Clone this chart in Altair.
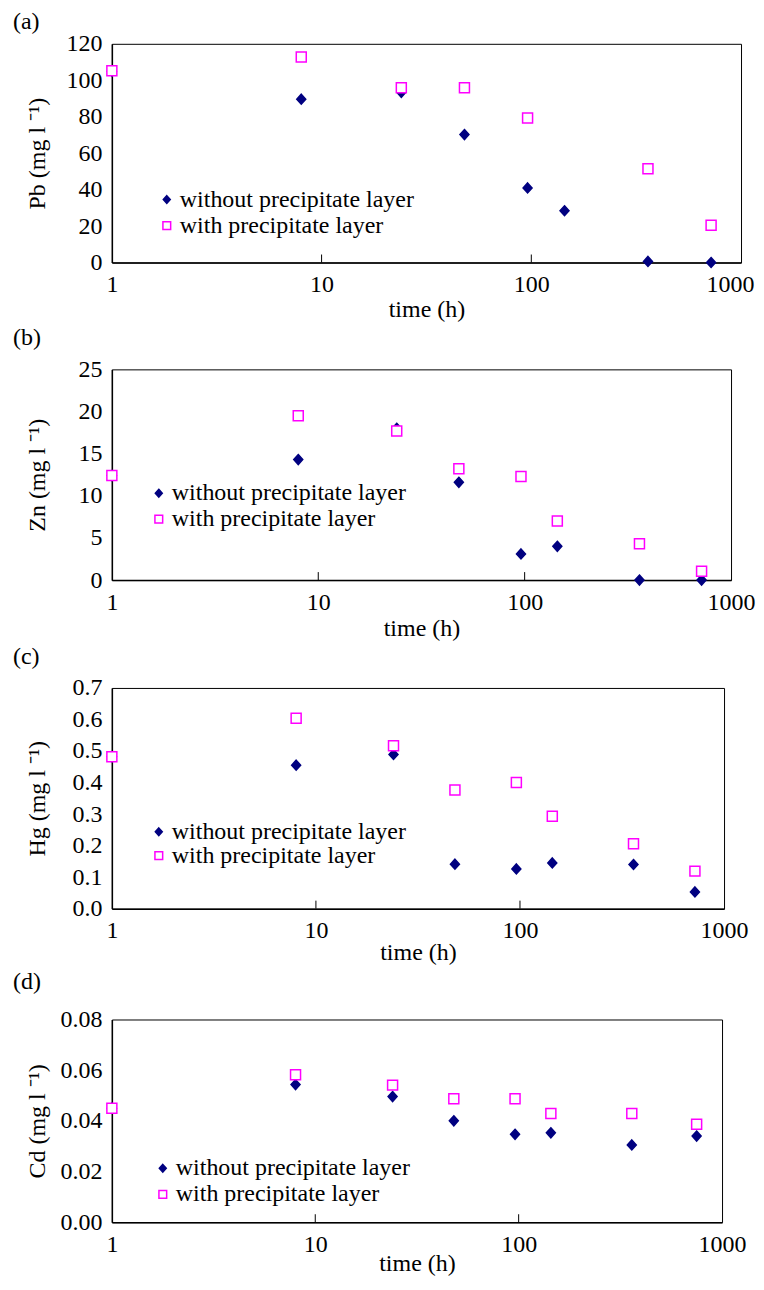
import altair as alt
import pandas as pd

# ---------------- data ----------------
times = [1, 8, 24, 48, 96, 144, 360, 720]
times_cd = [1, 8, 24, 48, 96, 144, 360, 750]

pb_without = [105, 89.6, 93.4, 70.2, 40.9, 28.4, 0.6, 0]
pb_with = [105.2, 112.8, 95.9, 95.9, 79.3, None, 51.4, 20.5]

zn_without = [12.4, 14.3, 18.0, 11.6, 3.1, 4.0, 0, 0]
zn_with = [12.4, 19.5, 17.7, 13.2, 12.3, 7.0, 4.3, 1.05]

hg_without = [0.482, 0.455, 0.489, 0.141, 0.126, 0.145, 0.140, 0.053]
hg_with = [0.482, 0.604, 0.517, 0.376, 0.400, 0.293, 0.206, 0.119]

cd_without = [0.0450, 0.0543, 0.0496, 0.0400, 0.0347, 0.0353, 0.0305, 0.0340]
cd_with = [0.0450, 0.0582, 0.0541, 0.0487, 0.0487, 0.0429, 0.0429, 0.0387]

series_names = ["without precipitate layer", "with precipitate layer"]
x_tick_values = [1, 10, 100, 1000]
x_inner_ticks = [10, 100]

pb_ticks = [0, 20, 40, 60, 80, 100, 120]
zn_ticks = [0, 5, 10, 15, 20, 25]
hg_ticks = [0.0, 0.1, 0.2, 0.3, 0.4, 0.5, 0.6, 0.7]
cd_ticks = [0.00, 0.02, 0.04, 0.06, 0.08]

FONT = "Liberation Serif"
FS = 24
NAVY = "#000080"
MAGENTA = "#FF00FF"
DIAMOND = "M0,-1L0.9,0L0,1L-0.9,0Z"


def panel(label, ylabel, tvals, without, with_, yticks, fmt, W, H,
          title_offset, tpad, xtpad, legx, legy, rowpad, last_shift=0):
    rows = []
    for t, v in zip(tvals, without):
        if v is not None:
            rows.append({"time": t, "value": v, "series": series_names[0], "k": 0})
    for t, v in zip(tvals, with_):
        if v is not None:
            rows.append({"time": t, "value": v, "series": series_names[1], "k": 1})
    df = pd.DataFrame(rows)

    xscale = alt.Scale(type="log", domain=[1, 1000], nice=False)
    legend = alt.Legend(
        orient="none", legendX=legx, legendY=legy, title=None,
        labelFont=FONT, labelFontSize=FS, labelColor="black",
        labelOffset=1, symbolSize=60, symbolStrokeWidth=1.5,
        rowPadding=rowpad, padding=0, labelLimit=400,
    )

    points = alt.Chart(df).mark_point(size=100, strokeWidth=1.5, opacity=1,
                                      fillOpacity=1).encode(
        x=alt.X("time:Q", scale=xscale,
                axis=alt.Axis(values=x_tick_values, format="d", title="time (h)",
                              tickSize=0, labelPadding=10, titlePadding=xtpad,
                              labelFlush=False, domainWidth=1.5,
                              labelOffset={"condition": {"test": "datum.value >= 1000",
                                                         "value": last_shift},
                                           "value": 0})),
        y=alt.Y("value:Q",
                scale=alt.Scale(domain=[yticks[0], yticks[-1]], nice=False, zero=True),
                axis=alt.Axis(values=yticks, format=fmt, title=ylabel,
                              tickSize=0, labelPadding=10, titlePadding=tpad,
                              labelFlush=False, domainWidth=1.5)),
        color=alt.Color("series:N",
                        scale=alt.Scale(domain=series_names, range=[NAVY, MAGENTA]),
                        legend=legend),
        fill=alt.Fill("series:N",
                      scale=alt.Scale(domain=series_names, range=[NAVY, "white"]),
                      legend=legend),
        shape=alt.Shape("series:N",
                        scale=alt.Scale(domain=series_names, range=[DIAMOND, "square"]),
                        legend=legend),
        order=alt.Order("k:Q"),
    )

    ticks = alt.Chart(pd.DataFrame({"time": x_inner_ticks})).mark_rule(
        color="black", strokeWidth=1).encode(
        x=alt.X("time:Q", scale=xscale),
        y=alt.value(H),
        y2=alt.value(H - 8),
    )

    return alt.layer(ticks, points).properties(
        width=W, height=H,
        title=alt.TitleParams(label, anchor="start", frame="group", dx=-99,
                              offset=title_offset, fontSize=FS, font=FONT,
                              fontWeight="normal", color="black"),
    )


pa = panel("(a)", "Pb (mg l ⁻¹)", times, pb_without, pb_with, pb_ticks, "d",
           630, 219, -2, 16, 1, 43, 144, 2, last_shift=-11)
pb = panel("(b)", "Zn (mg l ⁻¹)", times, zn_without, zn_with, zn_ticks, "d",
           620, 211, 7, 28, 2, 35, 112, 2)
pc = panel("(c)", "Hg (mg l ⁻¹)", times, hg_without, hg_with, hg_ticks, ".1f",
           613, 221, 7, 22, -2, 35, 132, 0)
pd_ = panel("(d)", "Cd (mg l ⁻¹)", times_cd, cd_without, cd_with, cd_ticks, ".2f",
            611, 203, 14, 10, -5, 39, 137, 2)

chart = alt.vconcat(pa, pb, pc, pd_, spacing=3).resolve_scale(
    color="independent", fill="independent", shape="independent"
).resolve_legend(
    color="independent", fill="independent", shape="independent"
).properties(
    padding={"left": 4, "top": 0, "right": 0, "bottom": 0}
).configure_view(
    stroke="black", strokeWidth=1
).configure_axis(
    grid=False, domainColor="black", labelFont=FONT, labelFontSize=FS,
    labelColor="black", titleFont=FONT, titleFontSize=FS, titleColor="black",
    titleFontWeight="normal", labelOverlap=False, labelBound=False,
).configure_legend(
    labelFont=FONT
)

chart.save("out.html", embed_options={"renderer": "svg", "actions": False})
